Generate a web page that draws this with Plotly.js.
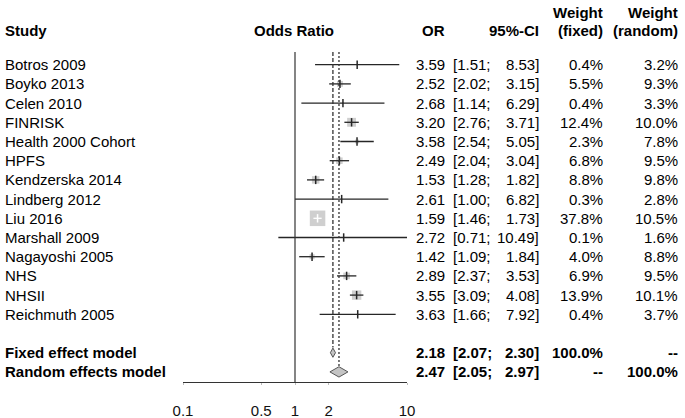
<!DOCTYPE html>
<html>
<head>
<meta charset="utf-8">
<script src="https://cdn.plot.ly/plotly-3.0.1.min.js"></script>
<style>html,body{margin:0;padding:0;background:#fff}#chart{width:685px;height:418px}</style>
</head>
<body>
<div id="chart"></div>
<script>
// ---- data ----
const studies = ["Botros 2009","Boyko 2013","Celen 2010","FINRISK","Health 2000 Cohort","HPFS","Kendzerska 2014","Lindberg 2012","Liu 2016","Marshall 2009","Nagayoshi 2005","NHS","NHSII","Reichmuth 2005"];
const orVals = [3.59,2.52,2.68,3.20,3.58,2.49,1.53,2.61,1.59,2.72,1.42,2.89,3.55,3.63];
const ciLow  = [1.51,2.02,1.14,2.76,2.54,2.04,1.28,1.00,1.46,0.71,1.09,2.37,3.09,1.66];
const ciHigh = [8.53,3.15,6.29,3.71,5.05,3.04,1.82,6.82,1.73,10.49,1.84,3.53,4.08,7.92];
const wFixed  = [0.4,5.5,0.4,12.4,2.3,6.8,8.8,0.3,37.8,0.1,4.0,6.9,13.9,0.4];
const wRandom = [3.2,9.3,3.3,10.0,7.8,9.5,9.8,2.8,10.5,1.6,8.8,9.5,10.1,3.7];
const pooledNames = ["Fixed effect model","Random effects model"];
const pooledOR   = [2.18,2.47];
const pooledLow  = [2.07,2.05];
const pooledHigh = [2.30,2.97];
const pooledWFixed  = ["100.0%","--"];
const pooledWRandom = ["--","100.0%"];
const tickVals = [0.1,0.5,1,2,10];
const tickText = ["0.1","0.5","1","2","10"];
const headers = {study:"Study", plot:"Odds Ratio", or:"OR", ci:"95%-CI", wf:["Weight","(fixed)"], wr:["Weight","(random)"]};

// ---- geometry ----
const W = 685, H = 418;
const row0 = 64.7, rowStep = 19.2;           // pixel of row 1, row spacing
const pix2row = p => 1 + (p - row0) / rowStep;
const xLeft = 183, xRight = 407;              // pixels of 0.1 and 10
const pxPerDec = (xRight - xLeft) / 2;
const FONT = "Liberation Sans, Arial, sans-serif";
const FS = 15;
const rows = studies.map((s, i) => i + 1);
const pooledRows = [16, 17];
const axisRow = pix2row(382);
const topRow = pix2row(52);

const traces = [];
// squares
const maxW = Math.max(...wFixed);
const sqSize = wFixed.map(w => 15.5 * Math.sqrt(w / maxW));
traces.push({
  type: 'scatter', mode: 'markers', x: orVals, y: rows,
  marker: {symbol: 'square', size: sqSize, color: '#bababa', line: {width: 0}},
  hoverinfo: 'skip', cliponaxis: false
});
// CI lines: white if fully inside square
const inside = orVals.map((o, i) => {
  const half = sqSize[i] / 2 / pxPerDec;
  const lo = Math.log10(ciLow[i]), hi = Math.log10(ciHigh[i]), c = Math.log10(o);
  return lo > c - half && hi < c + half;
});
function seg(filter) {
  const xs = [], ys = [];
  orVals.forEach((o, i) => { if (filter(i)) { xs.push(ciLow[i], ciHigh[i], null); ys.push(rows[i], rows[i], null); } });
  return {xs, ys};
}
const blk = seg(i => !inside[i]), wht = seg(i => inside[i]);
traces.push({type:'scatter', mode:'lines', x: blk.xs, y: blk.ys, line:{color:'#262626', width:1.3}, hoverinfo:'skip'});
traces.push({type:'scatter', mode:'lines', x: wht.xs, y: wht.ys, line:{color:'#ffffff', width:1.3}, hoverinfo:'skip'});
// point ticks
traces.push({
  type:'scatter', mode:'markers', x: orVals, y: rows,
  marker:{symbol:'line-ns', size:6, line:{width:1.5, color: inside.map(v => v ? '#ffffff' : '#262626')}},
  hoverinfo:'skip'
});
// reference lines
traces.push({type:'scatter', mode:'lines', x:[1,1], y:[topRow, axisRow], line:{color:'#333', width:1.2}, hoverinfo:'skip'});
traces.push({type:'scatter', mode:'lines', x:[pooledOR[0],pooledOR[0]], y:[topRow, pooledRows[0]-0.27], line:{color:'#333', width:1.3, dash:'4px,2px'}, hoverinfo:'skip'});
traces.push({type:'scatter', mode:'lines', x:[pooledOR[1],pooledOR[1]], y:[topRow, pooledRows[1]-0.28], line:{color:'#333', width:1.3, dash:'2px,2px'}, hoverinfo:'skip'});
// diamonds
const dh = [0.24, 0.27];
pooledOR.forEach((o, k) => {
  const r = pooledRows[k];
  traces.push({
    type:'scatter', mode:'lines', fill:'toself', fillcolor:'#c4c4c4',
    x:[pooledLow[k], o, pooledHigh[k], o, pooledLow[k]],
    y:[r, r - dh[k], r, r + dh[k], r],
    line:{color:'#555', width:1}, hoverinfo:'skip'
  });
});

// ---- text ----
const ann = [];
const px = p => p / W;
const py = p => 1 - p / H;
function txt(x, y, text, anchor, opts) {
  ann.push(Object.assign({xref:'paper', yref:'y', x: px(x), y: y, text: text, xanchor: anchor, yanchor:'middle',
    showarrow:false, font:{family:FONT, size:FS, color:'#000'}}, opts || {}));
}
function htxt(x, yPix, text, anchor) {
  ann.push({xref:'paper', yref:'paper', x: px(x), y: py(yPix), text: text, xanchor: anchor, yanchor:'middle',
    showarrow:false, font:{family:FONT, size:FS, color:'#000'}});
}
const colOR = 447, colCIl = 451, colCIr = 541, colWF = 605, colWR = 680;
htxt(3, 30, '<b>' + headers.study + '</b>', 'left');
htxt(294, 30, '<b>' + headers.plot + '</b>', 'center');
htxt(colOR, 30, '<b>' + headers.or + '</b>', 'right');
htxt(colCIr, 30, '<b>' + headers.ci + '</b>', 'right');
htxt(colWF, 12, '<b>' + headers.wf[0] + '</b>', 'right');
htxt(colWF, 30, '<b>' + headers.wf[1] + '</b>', 'right');
htxt(colWR, 12, '<b>' + headers.wr[0] + '</b>', 'right');
htxt(colWR, 30, '<b>' + headers.wr[1] + '</b>', 'right');

studies.forEach((s, i) => {
  const r = rows[i];
  txt(3, r, s, 'left');
  txt(colOR, r, orVals[i].toFixed(2), 'right');
  txt(colCIl, r, '[' + ciLow[i].toFixed(2) + ';', 'left');
  txt(colCIr, r, ciHigh[i].toFixed(2) + ']', 'right');
  txt(colWF, r, wFixed[i].toFixed(1) + '%', 'right');
  txt(colWR, r, wRandom[i].toFixed(1) + '%', 'right');
});
pooledNames.forEach((s, k) => {
  const r = pooledRows[k];
  const b = t => '<b>' + t + '</b>';
  txt(3, r, b(s), 'left');
  txt(colOR, r, b(pooledOR[k].toFixed(2)), 'right');
  txt(colCIl, r, b('[' + pooledLow[k].toFixed(2) + ';'), 'left');
  txt(colCIr, r, b(pooledHigh[k].toFixed(2) + ']'), 'right');
  txt(colWF, r, b(pooledWFixed[k]), 'right');
  txt(colWR, r, b(pooledWRandom[k]), 'right');
});

const layout = {
  width: W, height: H, margin:{l:0, r:0, t:0, b:0},
  paper_bgcolor:'#fff', plot_bgcolor:'rgba(0,0,0,0)', showlegend:false,
  xaxis:{type:'log', range:[-1, 1], domain:[px(xLeft), px(xRight)], anchor:'free', position: py(382),
    showline:true, linecolor:'#333', linewidth:1, ticks:'outside', ticklen:2, tickcolor:'#bbb',
    tickvals: tickVals, ticktext: tickText, tickfont:{family:FONT, size:FS, color:'#111'},
    ticklabelstandoff: 13, showgrid:false, zeroline:false, fixedrange:true},
  yaxis:{range:[pix2row(H), pix2row(0)], domain:[0,1], visible:false, fixedrange:true},
  annotations: ann
};
Plotly.newPlot('chart', traces, layout, {staticPlot:true});
</script>
</body>
</html>
